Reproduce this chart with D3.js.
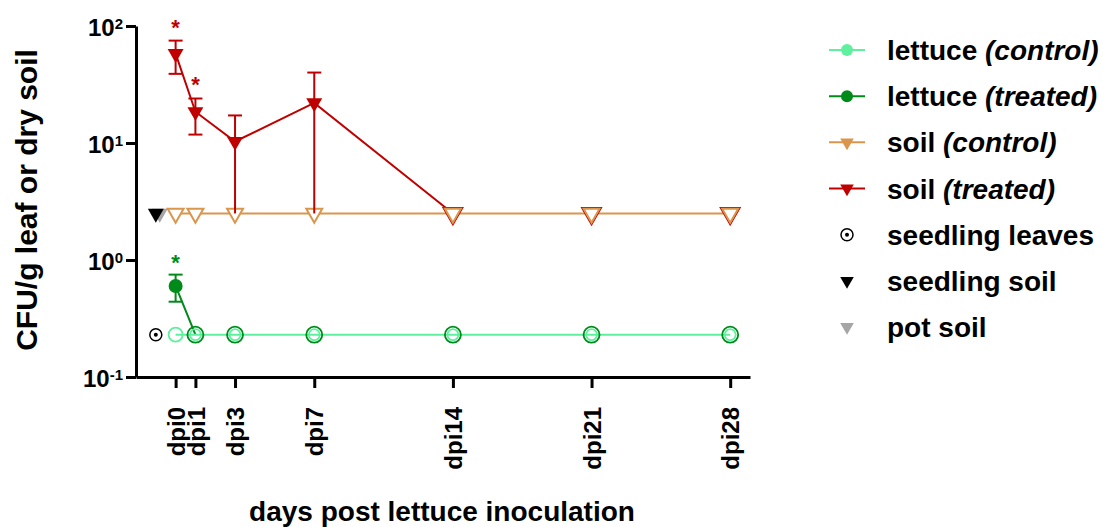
<!DOCTYPE html>
<html>
<head>
<meta charset="utf-8">
<script src="https://cdn.jsdelivr.net/npm/d3@7"></script>
<style>
  body { margin: 0; background: #fff; }
  text { font-family: "Liberation Sans", Arial, sans-serif; font-weight: bold; }
</style>
</head>
<body>
<svg width="1107" height="527"></svg>
<script>
// days post inoculation
const days = [0, 1, 3, 7, 14, 21, 28];
const dayLabels = ["dpi0", "dpi1", "dpi3", "dpi7", "dpi14", "dpi21", "dpi28"];

const lettuceControl = [0.23, 0.23, 0.23, 0.23, 0.23, 0.23, 0.23];
const lettuceTreated = [0.6, 0.23, 0.23, 0.23, 0.23, 0.23, 0.23];
const lettuceTreatedHi = [0.75, null, null, null, null, null, null];
const lettuceTreatedLo = [0.44, null, null, null, null, null, null];
const lettuceTreatedBelow = [false, true, true, true, true, true, true];

const soilControl = [2.5, 2.5, 2.5, 2.5, 2.5, 2.5, 2.5];
const soilTreated = [58, 18.5, 10.3, 22, 2.5, 2.5, 2.5];
const soilTreatedHi = [75, 24, 17.2, 40, null, null, null];
const soilTreatedLo = [39, 11.8, 2.5, 2.5, null, null, null];
const soilTreatedBelow = [false, false, false, false, true, true, true];

// seedling reference points (plotted left of dpi0)
const seedlingLeaves = { day: -1, value: 0.23 };
const seedlingSoil = { day: -1, value: 2.5 };
const potSoil = { day: -0.8, value: 2.5 };

// significance stars
const soilStars = [{ day: 0, value: 106 }, { day: 1, value: 34.5 }];
const lettuceStars = [{ day: 0, value: 1.04 }];

const legendNames = [
  ["lettuce ", "(control)"],
  ["lettuce ", "(treated)"],
  ["soil ", "(control)"],
  ["soil ", "(treated)"],
  ["seedling leaves", ""],
  ["seedling soil", ""],
  ["pot soil", ""]
];

const lightGreen = "#5EF09E";
const darkGreen = "#008A1A";
const orange = "#D9964C";
const red = "#C00000";
const grey = "#A5A5A8";

const svg = d3.select("svg");

const x = d3.scaleLinear().domain([-2, 29]).range([136, 750]);
const y = d3.scaleLog().domain([0.1, 100]).range([377, 26]);

const tri = d3.symbol().type(d3.symbolTriangle).size(110);
const triBig = d3.symbol().type(d3.symbolTriangle).size(150);

// axes
const yAxis = svg.append("g")
  .attr("transform", "translate(136,0)")
  .call(d3.axisLeft(y).tickValues([0.1, 1, 10, 100]).tickSize(10).tickSizeOuter(0).tickFormat(""));
yAxis.select(".domain").attr("stroke-width", 3);
yAxis.selectAll(".tick line").attr("stroke-width", 3);
yAxis.selectAll(".tick").each(function (d) {
  const t = d3.select(this).append("text")
    .attr("x", -13)
    .attr("y", 9)
    .attr("fill", "#000")
    .attr("text-anchor", "end");
  t.append("tspan").style("font-size", "24px").text("10");
  t.append("tspan").style("font-size", "15px").attr("dy", -7).text(Math.round(Math.log10(d)));
});

const xAxis = svg.append("g")
  .attr("transform", "translate(0,377)")
  .call(d3.axisBottom(x).tickValues(days).tickSize(11).tickSizeOuter(0).tickFormat(""));
xAxis.select(".domain").attr("stroke-width", 3);
xAxis.selectAll(".tick line").attr("stroke-width", 3);
xAxis.selectAll(".tick").append("text")
  .attr("transform", "rotate(-90)")
  .attr("x", -30)
  .attr("dy", "0.36em")
  .attr("fill", "#000")
  .attr("text-anchor", "end")
  .style("font-size", "24px")
  .text((d, i) => dayLabels[i]);

svg.append("text")
  .attr("x", 442)
  .attr("y", 521)
  .attr("text-anchor", "middle")
  .style("font-size", "28px")
  .text("days post lettuce inoculation");

svg.append("text")
  .attr("transform", "translate(37,200) rotate(-90)")
  .attr("text-anchor", "middle")
  .style("font-size", "30px")
  .text("CFU/g leaf or dry soil");

// lines
const line = vals => d3.line().x((d, i) => x(days[i])).y(d => y(d))(vals);
const firstBelow = soilTreatedBelow.indexOf(true);

svg.append("path").attr("d", line(lettuceTreated.slice(0, 2))).attr("fill", "none").attr("stroke", darkGreen).attr("stroke-width", 2);
svg.append("path").attr("d", line(soilTreated.slice(0, firstBelow + 1))).attr("fill", "none").attr("stroke", red).attr("stroke-width", 2);
svg.append("path").attr("d", line(soilControl)).attr("fill", "none").attr("stroke", orange).attr("stroke-width", 2);
svg.append("path").attr("d", line(lettuceControl)).attr("fill", "none").attr("stroke", lightGreen).attr("stroke-width", 2);

// soil control markers (hollow)
svg.selectAll(".soilc").data(soilControl).enter().append("path")
  .attr("d", tri)
  .attr("transform", (d, i) => `translate(${x(days[i])},${y(d)}) rotate(180)`)
  .attr("fill", "#fff").attr("stroke", orange).attr("stroke-width", 2);

// error bars
function errorBars(hi, lo, color) {
  const idx = days.map((d, i) => i).filter(i => hi[i] != null);
  const g = svg.append("g").attr("stroke", color).attr("stroke-width", 2);
  idx.forEach(i => {
    const cx = x(days[i]);
    g.append("line").attr("x1", cx).attr("x2", cx).attr("y1", y(hi[i])).attr("y2", y(lo[i]));
    g.append("line").attr("x1", cx - 7).attr("x2", cx + 7).attr("y1", y(hi[i])).attr("y2", y(hi[i]));
    if (lo[i] > 2.6 || color !== red)
      g.append("line").attr("x1", cx - 7).attr("x2", cx + 7).attr("y1", y(lo[i])).attr("y2", y(lo[i]));
  });
}
errorBars(soilTreatedHi, soilTreatedLo, red);
errorBars(lettuceTreatedHi, lettuceTreatedLo, darkGreen);

// soil treated markers
soilTreated.forEach((v, i) => {
  const tr = `translate(${x(days[i])},${y(v)}) rotate(180)`;
  if (soilTreatedBelow[i]) {
    svg.append("path").attr("d", triBig).attr("transform", tr)
      .attr("fill", "#fff").attr("stroke", red).attr("stroke-width", 2);
    svg.append("path").attr("d", tri).attr("transform", tr)
      .attr("fill", "none").attr("stroke", orange).attr("stroke-width", 2);
  } else {
    svg.append("path").attr("d", tri).attr("transform", tr).attr("fill", red);
  }
});

// lettuce markers
lettuceTreated.forEach((v, i) => {
  const c = svg.append("circle").attr("cx", x(days[i])).attr("cy", y(v));
  if (lettuceTreatedBelow[i]) c.attr("r", 8).attr("fill", "none").attr("stroke", darkGreen).attr("stroke-width", 1.8);
  else c.attr("r", 7).attr("fill", darkGreen);
});
svg.selectAll(".letc").data(lettuceControl).enter().append("circle")
  .attr("cx", (d, i) => x(days[i])).attr("cy", d => y(d))
  .attr("r", (d, i) => lettuceTreatedBelow[i] ? 5.5 : 7)
  .attr("fill", "none").attr("stroke", lightGreen).attr("stroke-width", 1.8);

// seedling reference points
svg.append("path").attr("d", tri)
  .attr("transform", `translate(${x(potSoil.day)},${y(potSoil.value)}) rotate(180)`).attr("fill", grey);
svg.append("path").attr("d", tri)
  .attr("transform", `translate(${x(seedlingSoil.day)},${y(seedlingSoil.value)}) rotate(180)`).attr("fill", "#000");
svg.append("circle").attr("cx", x(seedlingLeaves.day)).attr("cy", y(seedlingLeaves.value))
  .attr("r", 6).attr("fill", "none").attr("stroke", "#000").attr("stroke-width", 1.5);
svg.append("circle").attr("cx", x(seedlingLeaves.day)).attr("cy", y(seedlingLeaves.value))
  .attr("r", 2).attr("fill", "#000");

// stars
svg.selectAll(".sstar").data(soilStars).enter().append("text")
  .attr("x", d => x(d.day)).attr("y", d => y(d.value)).attr("dy", "0.55em")
  .attr("text-anchor", "middle").attr("fill", red).style("font-size", "22px").text("*");
svg.selectAll(".lstar").data(lettuceStars).enter().append("text")
  .attr("x", d => x(d.day)).attr("y", d => y(d.value)).attr("dy", "0.55em")
  .attr("text-anchor", "middle").attr("fill", darkGreen).style("font-size", "22px").text("*");

// legend
const legend = svg.append("g");
const legY = d3.scaleLinear().domain([0, 6]).range([50, 327]);
const symX = 847;
const lineColors = [lightGreen, darkGreen, orange, red];
legendNames.forEach((n, i) => {
  const ly = legY(i);
  if (i < 4) {
    legend.append("line").attr("x1", 829).attr("x2", 865).attr("y1", ly).attr("y2", ly)
      .attr("stroke", lineColors[i]).attr("stroke-width", 2);
  }
  if (i < 2) {
    legend.append("circle").attr("cx", symX).attr("cy", ly).attr("r", 6).attr("fill", lineColors[i]);
  } else if (i < 4) {
    legend.append("path").attr("d", d3.symbol().type(d3.symbolTriangle).size(80))
      .attr("transform", `translate(${symX},${ly}) rotate(180)`).attr("fill", lineColors[i]);
  } else if (i === 4) {
    legend.append("circle").attr("cx", symX).attr("cy", ly).attr("r", 6)
      .attr("fill", "none").attr("stroke", "#000").attr("stroke-width", 1.5);
    legend.append("circle").attr("cx", symX).attr("cy", ly).attr("r", 2).attr("fill", "#000");
  } else {
    legend.append("path").attr("d", d3.symbol().type(d3.symbolTriangle).size(80))
      .attr("transform", `translate(${symX},${ly}) rotate(180)`).attr("fill", i === 5 ? "#000" : grey);
  }
  const t = legend.append("text").attr("x", 887).attr("y", ly).attr("dy", "0.36em")
    .style("font-size", "28px");
  t.append("tspan").text(n[0]);
  if (n[1]) t.append("tspan").style("font-style", "italic").text(n[1]);
});
</script>
</body>
</html>
